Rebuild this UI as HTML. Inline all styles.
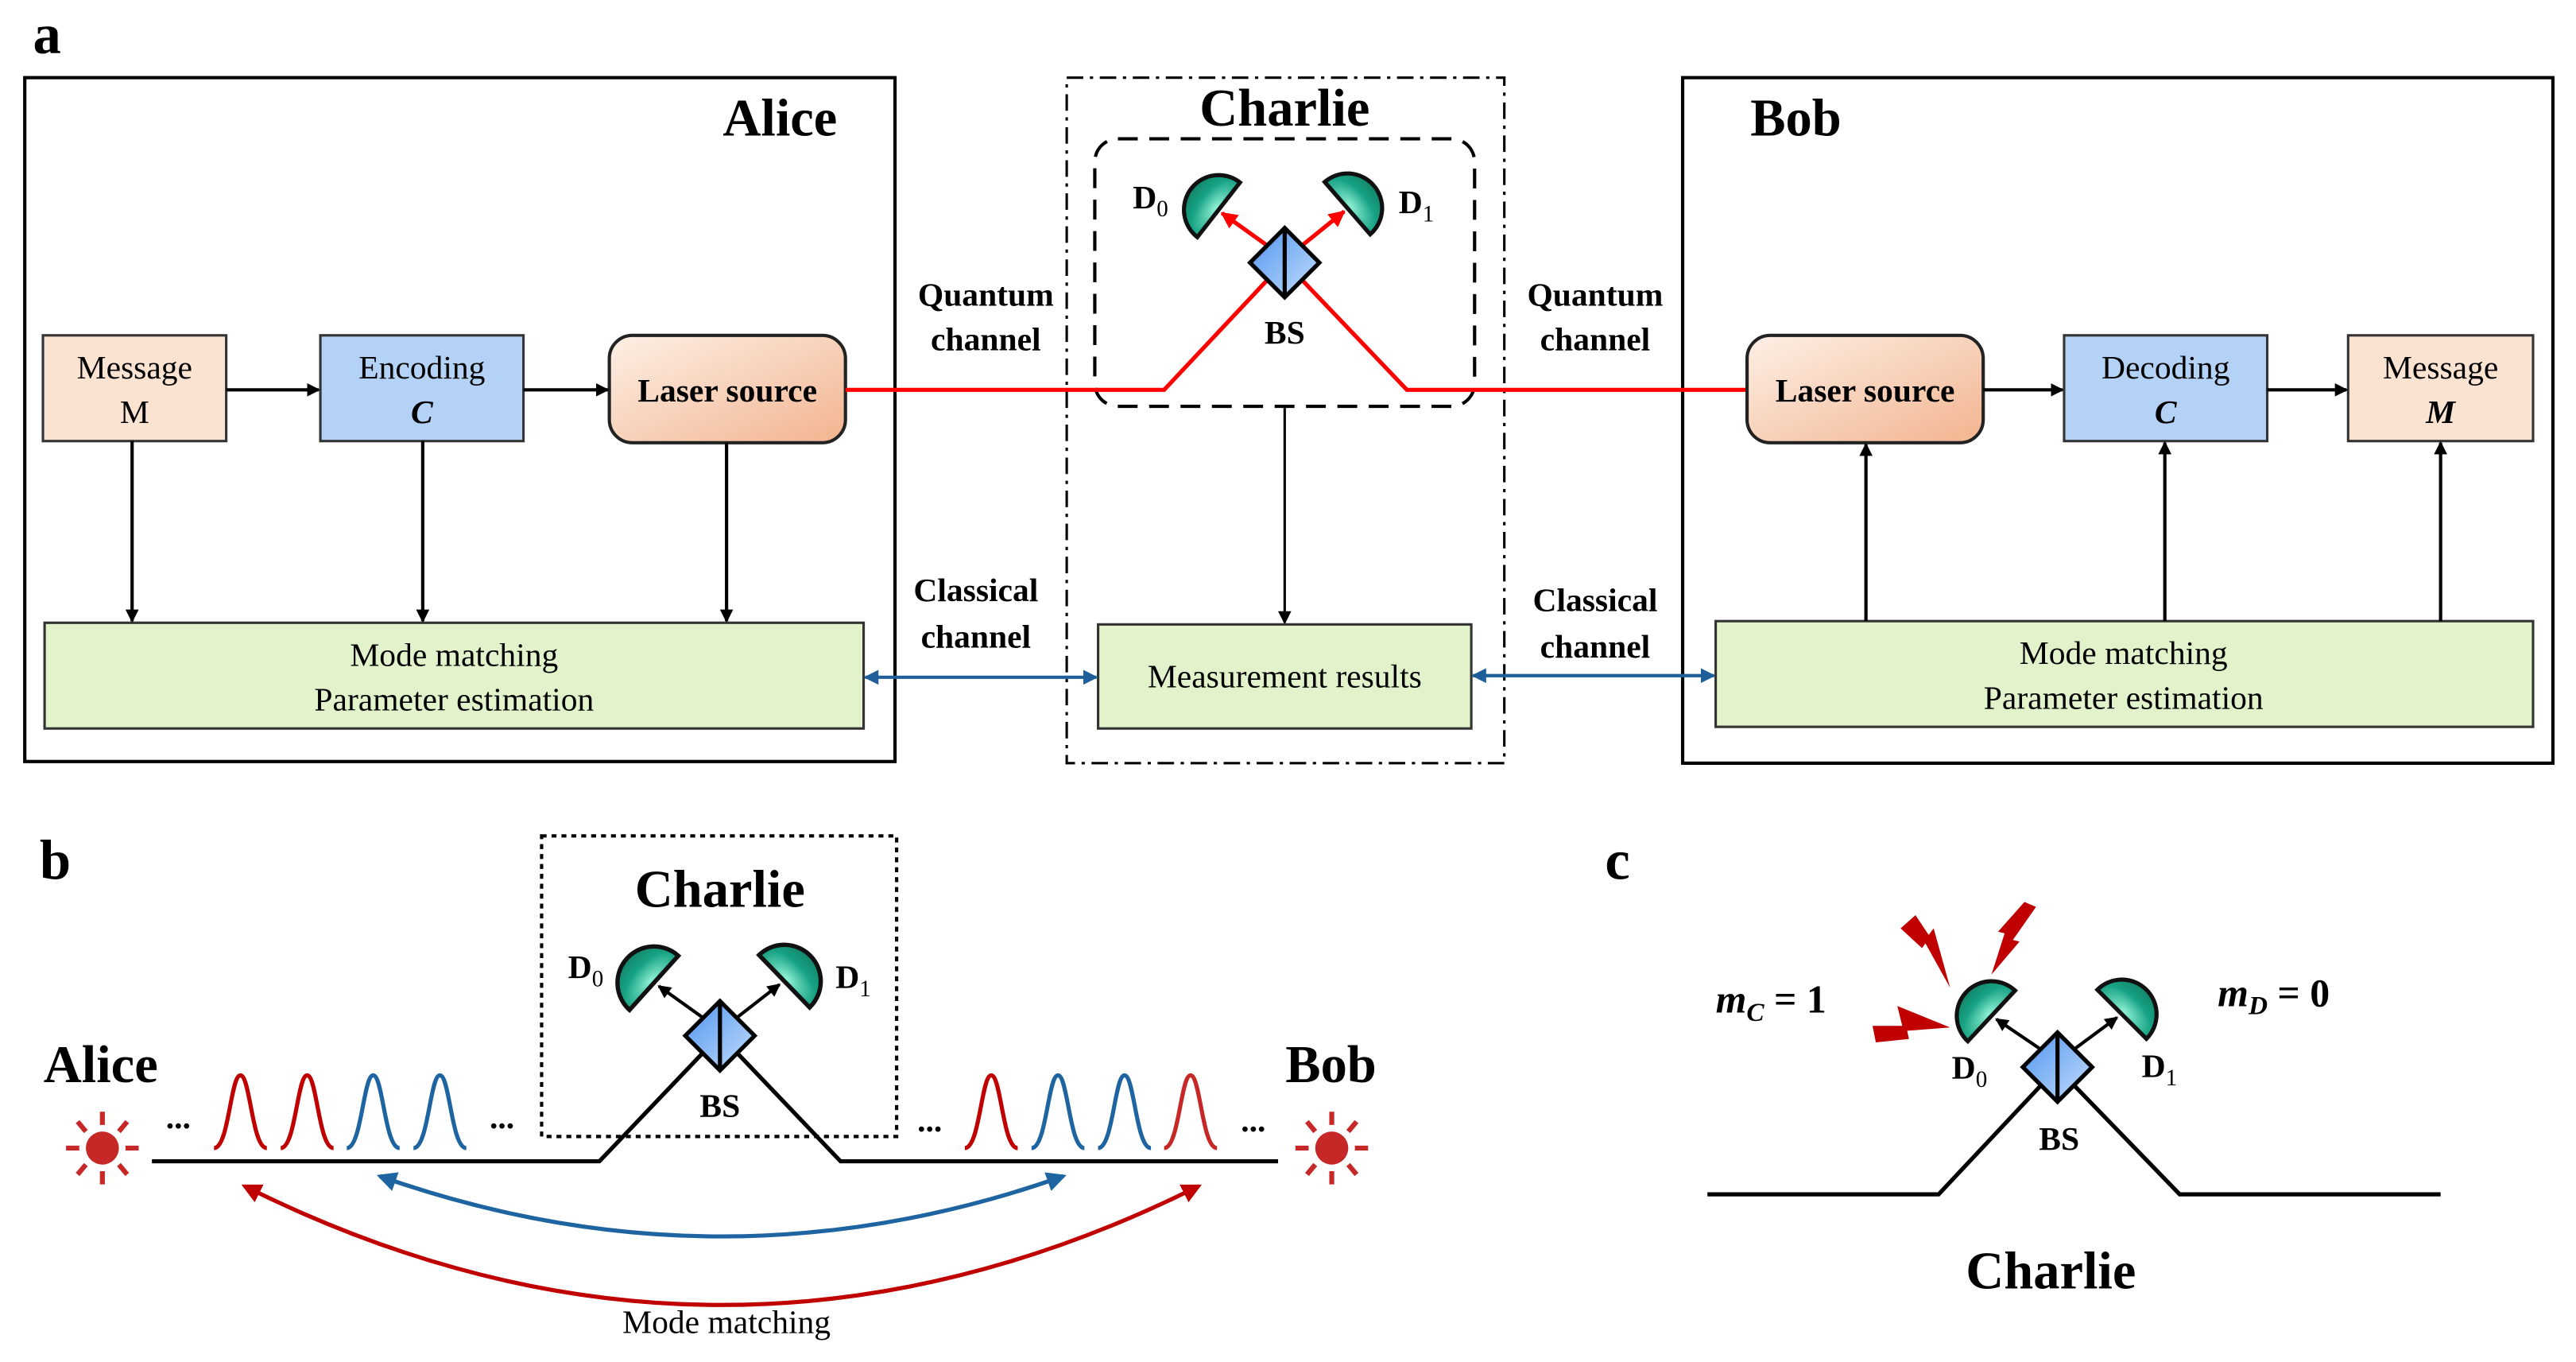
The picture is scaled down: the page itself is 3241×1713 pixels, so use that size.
<!DOCTYPE html>
<html><head><meta charset="utf-8"><style>html,body{margin:0;padding:0;background:#fff}svg{display:block}text{font-family:"Liberation Serif",serif}</style></head>
<body>
<svg width="3241" height="1713" viewBox="0 0 1560 824.5" xmlns="http://www.w3.org/2000/svg">
<defs>
<linearGradient id="laser" x1="0" y1="0" x2="1" y2="1"><stop offset="0" stop-color="#fdf0e6"/><stop offset="1" stop-color="#f2b48f"/></linearGradient>
<radialGradient id="det" cx="0.5" cy="0.9" r="0.8"><stop offset="0" stop-color="#8ef0d6"/><stop offset="0.6" stop-color="#17a283"/><stop offset="1" stop-color="#138a6e"/></radialGradient>
<linearGradient id="bs" x1="0" y1="0" x2="1" y2="1"><stop offset="0" stop-color="#4f94ee"/><stop offset="1" stop-color="#c4defc"/></linearGradient>
<marker id="ak" markerWidth="8" markerHeight="8" refX="7" refY="4" orient="auto" markerUnits="userSpaceOnUse"><path d="M0,0 L8,4 L0,8 z" fill="#000"/></marker>
<marker id="ar" markerWidth="10" markerHeight="10" refX="9" refY="5" orient="auto" markerUnits="userSpaceOnUse"><path d="M0,0 L10,5 L0,10 z" fill="#f00"/></marker>
<marker id="ab" markerWidth="9" markerHeight="9" refX="8" refY="4.5" orient="auto-start-reverse" markerUnits="userSpaceOnUse"><path d="M0,0 L9,4.5 L0,9 z" fill="#1e5f9a"/></marker>
<marker id="abl" markerWidth="12" markerHeight="12" refX="10" refY="6" orient="auto-start-reverse" markerUnits="userSpaceOnUse"><path d="M0,0 L12,6 L0,12 z" fill="#1e64a0"/></marker>
<marker id="arl" markerWidth="12" markerHeight="12" refX="10" refY="6" orient="auto-start-reverse" markerUnits="userSpaceOnUse"><path d="M0,0 L12,6 L0,12 z" fill="#c00000"/></marker>
<g id="det1"><path d="M-21,0 A21,21 0 0 1 21,0 Z" fill="url(#det)" stroke="#111" stroke-width="2.5"/></g>
<g id="bsd"><path d="M0,-21 L21,0 L0,21 L-21,0 Z" fill="url(#bs)" stroke="#000" stroke-width="2.5"/><line x1="0" y1="-21" x2="0" y2="21" stroke="#000" stroke-width="2.5"/></g>
<g id="sun" fill="#c62828" stroke="#c62828" stroke-width="3"><circle r="10" stroke="none"/><line x1="0" y1="-14" x2="0" y2="-22"/><line x1="0" y1="14" x2="0" y2="22"/><line x1="-14" y1="0" x2="-22" y2="0"/><line x1="14" y1="0" x2="22" y2="0"/><line x1="10" y1="10" x2="15" y2="16"/><line x1="-10" y1="-10" x2="-15" y2="-16"/><line x1="10" y1="-10" x2="15" y2="-16"/><line x1="-10" y1="10" x2="-15" y2="16"/></g>
<path id="pulse" d="M-16,0 C-7,0 -6,-44 0,-44 C6,-44 7,0 16,0" fill="none" stroke-width="2.5"/>
</defs>

<!-- a -->
<text x="20" y="32" font-size="34" font-weight="bold">a</text>
<rect x="15" y="47" width="527" height="414" fill="none" stroke="#000" stroke-width="2"/>
<text x="507" y="82" font-size="32" font-weight="bold" text-anchor="end">Alice</text>
<rect x="646" y="47" width="265" height="415" fill="none" stroke="#000" stroke-width="1.5" stroke-dasharray="10,4,2,4"/>
<text x="778" y="76" font-size="32" font-weight="bold" text-anchor="middle">Charlie</text>
<rect x="663" y="84" width="230" height="162" rx="14" fill="none" stroke="#000" stroke-width="2" stroke-dasharray="12,7"/>
<rect x="1019" y="47" width="527" height="415" fill="none" stroke="#000" stroke-width="2"/>
<text x="1060" y="82" font-size="32" font-weight="bold">Bob</text>

<rect x="26" y="203" width="111" height="64" fill="#fbe3d2" stroke="#333" stroke-width="1.5"/>
<text x="81.5" y="229" font-size="20" text-anchor="middle">Message</text><text x="81.5" y="256" font-size="20" text-anchor="middle">M</text>
<rect x="194" y="203" width="123" height="64" fill="#b4d2f6" stroke="#333" stroke-width="1.5"/>
<text x="255.5" y="229" font-size="20" text-anchor="middle">Encoding</text><text x="255.5" y="256" font-size="20" text-anchor="middle" font-style="italic" font-weight="bold">C</text>
<rect x="369" y="203" width="143" height="65" rx="14" fill="url(#laser)" stroke="#222" stroke-width="2"/>
<text x="440.5" y="243" font-size="20" text-anchor="middle" font-weight="bold">Laser source</text>
<line x1="137" y1="236" x2="193" y2="236" stroke="#000" stroke-width="2" marker-end="url(#ak)"/>
<line x1="317" y1="236" x2="368" y2="236" stroke="#000" stroke-width="2" marker-end="url(#ak)"/>
<rect x="27" y="377" width="496" height="64" fill="#e2f3cc" stroke="#333" stroke-width="1.5"/>
<text x="275" y="403" font-size="20" text-anchor="middle">Mode matching</text><text x="275" y="430" font-size="20" text-anchor="middle">Parameter estimation</text>
<line x1="80" y1="267" x2="80" y2="376" stroke="#000" stroke-width="2" marker-end="url(#ak)"/>
<line x1="256" y1="267" x2="256" y2="376" stroke="#000" stroke-width="2" marker-end="url(#ak)"/>
<line x1="440" y1="268" x2="440" y2="376" stroke="#000" stroke-width="2" marker-end="url(#ak)"/>

<polyline points="512,236 705,236 767,170" fill="none" stroke="#f00" stroke-width="2.5"/>
<polyline points="789,170 852,236 1058,236" fill="none" stroke="#f00" stroke-width="2.5"/>
<line x1="768" y1="149" x2="740" y2="129" stroke="#f00" stroke-width="2.5" marker-end="url(#ar)"/>
<line x1="788" y1="149" x2="814" y2="128" stroke="#f00" stroke-width="2.5" marker-end="url(#ar)"/>
<use href="#det1" transform="translate(738,127) rotate(-52)"/>
<use href="#det1" transform="translate(816,126) rotate(49)"/>
<use href="#bsd" x="778" y="159"/>
<text x="686" y="126" font-size="20" font-weight="bold">D<tspan font-size="14" dy="5" font-weight="normal">0</tspan></text>
<text x="847" y="129" font-size="20" font-weight="bold">D<tspan font-size="14" dy="5" font-weight="normal">1</tspan></text>
<text x="778" y="208" font-size="20" font-weight="bold" text-anchor="middle">BS</text>
<text x="597" y="185" font-size="20" font-weight="bold" text-anchor="middle">Quantum</text><text x="597" y="212" font-size="20" font-weight="bold" text-anchor="middle">channel</text>
<text x="966" y="185" font-size="20" font-weight="bold" text-anchor="middle">Quantum</text><text x="966" y="212" font-size="20" font-weight="bold" text-anchor="middle">channel</text>
<text x="591" y="364" font-size="20" font-weight="bold" text-anchor="middle">Classical</text><text x="591" y="392" font-size="20" font-weight="bold" text-anchor="middle">channel</text>
<text x="966" y="370" font-size="20" font-weight="bold" text-anchor="middle">Classical</text><text x="966" y="398" font-size="20" font-weight="bold" text-anchor="middle">channel</text>
<line x1="778" y1="247" x2="778" y2="377" stroke="#000" stroke-width="1.5" marker-end="url(#ak)"/>
<rect x="665" y="378" width="226" height="63" fill="#e2f3cc" stroke="#333" stroke-width="1.5"/>
<text x="778" y="416" font-size="20" text-anchor="middle">Measurement results</text>
<line x1="524" y1="410" x2="664" y2="410" stroke="#1e5f9a" stroke-width="2" marker-start="url(#ab)" marker-end="url(#ab)"/>
<line x1="892" y1="409" x2="1038" y2="409" stroke="#1e5f9a" stroke-width="2" marker-start="url(#ab)" marker-end="url(#ab)"/>

<rect x="1058" y="203" width="143" height="65" rx="14" fill="url(#laser)" stroke="#222" stroke-width="2"/>
<text x="1129.5" y="243" font-size="20" text-anchor="middle" font-weight="bold">Laser source</text>
<rect x="1250" y="203" width="123" height="64" fill="#b4d2f6" stroke="#333" stroke-width="1.5"/>
<text x="1311.5" y="229" font-size="20" text-anchor="middle">Decoding</text><text x="1311.5" y="256" font-size="20" text-anchor="middle" font-style="italic" font-weight="bold">C</text>
<rect x="1422" y="203" width="112" height="64" fill="#fbe3d2" stroke="#333" stroke-width="1.5"/>
<text x="1478" y="229" font-size="20" text-anchor="middle">Message</text><text x="1478" y="256" font-size="20" text-anchor="middle" font-style="italic" font-weight="bold">M</text>
<line x1="1201" y1="236" x2="1249" y2="236" stroke="#000" stroke-width="2" marker-end="url(#ak)"/>
<line x1="1373" y1="236" x2="1421" y2="236" stroke="#000" stroke-width="2" marker-end="url(#ak)"/>
<rect x="1039" y="376" width="495" height="64" fill="#e2f3cc" stroke="#333" stroke-width="1.5"/>
<text x="1286" y="402" font-size="20" text-anchor="middle">Mode matching</text><text x="1286" y="429" font-size="20" text-anchor="middle">Parameter estimation</text>
<line x1="1130" y1="376" x2="1130" y2="269" stroke="#000" stroke-width="2" marker-end="url(#ak)"/>
<line x1="1311" y1="376" x2="1311" y2="268" stroke="#000" stroke-width="2" marker-end="url(#ak)"/>
<line x1="1478" y1="376" x2="1478" y2="268" stroke="#000" stroke-width="2" marker-end="url(#ak)"/>

<!-- b -->
<text x="24" y="532" font-size="34" font-weight="bold">b</text>
<rect x="328" y="506" width="215" height="182" fill="none" stroke="#000" stroke-width="2" stroke-dasharray="3,3"/>
<text x="436" y="549" font-size="32" font-weight="bold" text-anchor="middle">Charlie</text>
<polyline points="92,703 363,703 426,637" fill="none" stroke="#000" stroke-width="2.5"/>
<polyline points="446,637 509,703 774,703" fill="none" stroke="#000" stroke-width="2.5"/>
<line x1="427" y1="617" x2="399" y2="597" stroke="#000" stroke-width="2" marker-end="url(#ak)"/>
<line x1="445" y1="617" x2="472" y2="596" stroke="#000" stroke-width="2" marker-end="url(#ak)"/>
<use href="#det1" transform="translate(396,595) rotate(-48) scale(1.05)"/>
<use href="#det1" transform="translate(475,594) rotate(46) scale(1.05)"/>
<use href="#bsd" x="436" y="627"/>
<text x="344" y="592" font-size="20" font-weight="bold">D<tspan font-size="14" dy="5" font-weight="normal">0</tspan></text>
<text x="506" y="598" font-size="20" font-weight="bold">D<tspan font-size="14" dy="5" font-weight="normal">1</tspan></text>
<text x="436" y="676" font-size="20" font-weight="bold" text-anchor="middle">BS</text>
<text x="61" y="655" font-size="32" font-weight="bold" text-anchor="middle">Alice</text>
<text x="806" y="655" font-size="32" font-weight="bold" text-anchor="middle">Bob</text>
<use href="#sun" x="62" y="695"/><use href="#sun" x="806.5" y="695"/>
<g font-size="20" font-weight="bold" text-anchor="middle"><text x="108" y="683">...</text><text x="304" y="683">...</text><text x="563" y="685">...</text><text x="759" y="685">...</text></g>
<use href="#pulse" x="145.6" y="695" stroke="#c00000"/><use href="#pulse" x="186" y="695" stroke="#c00000"/>
<use href="#pulse" x="226" y="695" stroke="#1e64a0"/><use href="#pulse" x="266.4" y="695" stroke="#1e64a0"/>
<use href="#pulse" x="600.3" y="695" stroke="#c00000"/><use href="#pulse" x="640.7" y="695" stroke="#1e64a0"/>
<use href="#pulse" x="681" y="695" stroke="#1e64a0"/><use href="#pulse" x="721" y="695" stroke="#c62828"/>
<path d="M230,712 Q437,785 644,712" fill="none" stroke="#1e64a0" stroke-width="2.5" marker-start="url(#abl)" marker-end="url(#abl)"/>
<path d="M148,718 Q437,862 726,718" fill="none" stroke="#c00000" stroke-width="2.5" marker-start="url(#arl)" marker-end="url(#arl)"/>
<text x="440" y="807" font-size="20" text-anchor="middle">Mode matching</text>

<!-- c -->
<text x="972" y="532" font-size="34" font-weight="bold">c</text>
<polyline points="1034,723 1174,723 1236,657" fill="none" stroke="#000" stroke-width="2.5"/>
<polyline points="1256,657 1320,723 1478,723" fill="none" stroke="#000" stroke-width="2.5"/>
<line x1="1237" y1="636" x2="1209" y2="617" stroke="#000" stroke-width="2" marker-end="url(#ak)"/>
<line x1="1255" y1="636" x2="1282" y2="616" stroke="#000" stroke-width="2" marker-end="url(#ak)"/>
<use href="#det1" transform="translate(1206,615) rotate(-47)"/>
<use href="#det1" transform="translate(1285,614) rotate(45)"/>
<use href="#bsd" x="1246" y="646"/>
<text x="1182" y="653" font-size="20" font-weight="bold">D<tspan font-size="14" dy="5" font-weight="normal">0</tspan></text>
<text x="1297" y="652" font-size="20" font-weight="bold">D<tspan font-size="14" dy="5" font-weight="normal">1</tspan></text>
<text x="1247" y="696" font-size="20" font-weight="bold" text-anchor="middle">BS</text>
<text x="1242" y="780" font-size="32" font-weight="bold" text-anchor="middle">Charlie</text>
<text x="1039" y="613" font-size="24" font-weight="bold"><tspan font-style="italic">m</tspan><tspan font-style="italic" font-size="16" dy="5">C</tspan><tspan dy="-5"> = 1</tspan></text>
<text x="1343" y="609" font-size="24" font-weight="bold"><tspan font-style="italic">m</tspan><tspan font-style="italic" font-size="16" dy="5">D</tspan><tspan dy="-5"> = 0</tspan></text>
<g fill="#c00000">
<path d="M1160,554 L1168,566 L1171,562 L1181,598 L1166,571 L1164,574 L1151,562 Z"/>
<path d="M1226,546 L1233,549 L1219,569 L1223,570 L1206,590 L1214,565 L1210,564 Z"/>
<path d="M1136,631 L1134,621 L1152,621 L1149,609 L1181,622 L1155,624 L1156,629 Z"/>
</g>
</svg>
</body></html>
